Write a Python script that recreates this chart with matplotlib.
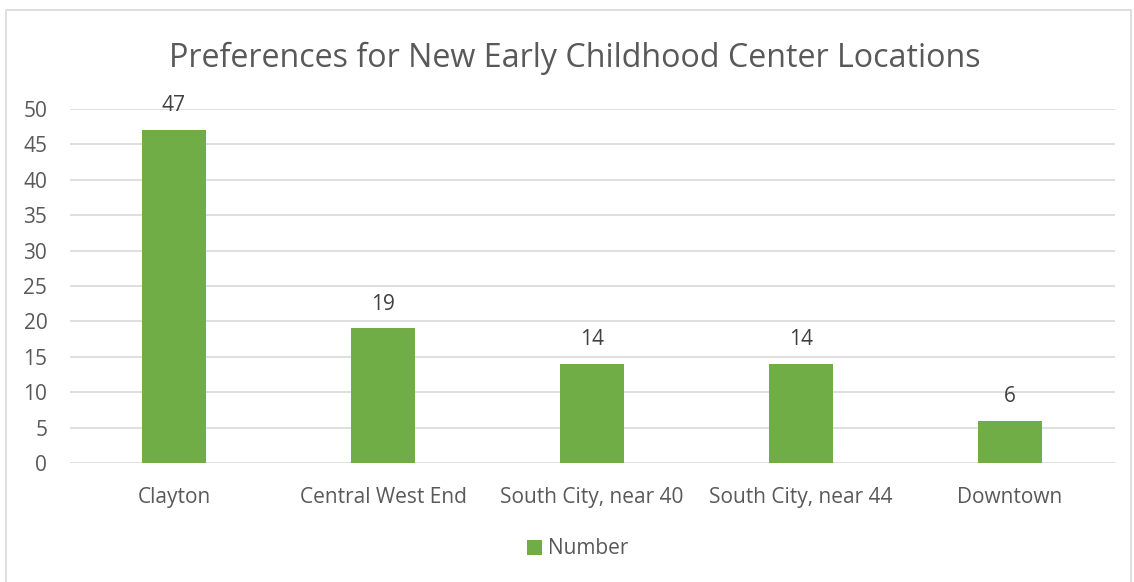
import matplotlib.pyplot as plt
from matplotlib.patches import Rectangle

locations = ['Clayton', 'Central West End', 'South City, near 40',
             'South City, near 44', 'Downtown']
number = [47, 19, 14, 14, 6]
yticks = [0, 5, 10, 15, 20, 25, 30, 35, 40, 45, 50]

green = '#70AD47'
text_gray = '#595959'
grid_gray = '#D9D9D9'

plt.rcParams['font.family'] = ['Open Sans', 'DejaVu Sans']

fig = plt.figure(figsize=(11.34, 5.82), dpi=100)
fig.patches.append(Rectangle((6 / 1134, -0.05), 1125 / 1134, 1.05 - 10 / 582,
                             transform=fig.transFigure, fill=False,
                             edgecolor='#D9D9D9', linewidth=1.2))

ax = fig.add_axes([69.5 / 1134, (582 - 463) / 582, 1045 / 1134, 354 / 582])
x = range(len(locations))
bars = ax.bar(x, number, width=0.31, color=green, zorder=3, label='Number')

ax.set_xlim(-0.5, len(locations) - 0.5)
ax.set_ylim(0, 50)
ax.set_yticks(yticks)
ax.set_xticks(list(x))
ax.set_xticklabels(locations)
ax.yaxis.grid(True, color=grid_gray, linewidth=1.2, zorder=0)
ax.set_axisbelow(True)
for s in ax.spines.values():
    s.set_visible(False)
ax.tick_params(axis='both', length=0, labelsize=15, colors=text_gray)
ax.tick_params(axis='x', pad=17)
ax.tick_params(axis='y', pad=16)

for b, v in zip(bars, number):
    ax.annotate(str(v), (b.get_x() + b.get_width() / 2, v),
                xytext=(0, 10), textcoords='offset points',
                ha='center', va='bottom', fontsize=15, color='#404040')

fig.text(575 / 1134, 1 - 58 / 582,
         'Preferences for New Early Childhood Center Locations',
         ha='center', va='center', fontsize=23.2, color=text_gray)

ax.legend(loc='center', bbox_to_anchor=(578 / 1134, 1 - 549 / 582),
          bbox_transform=fig.transFigure, frameon=False, fontsize=15,
          handlelength=0.7, handleheight=0.7, handletextpad=0.3,
          labelcolor=text_gray)

fig.savefig('out.png', dpi=100)
